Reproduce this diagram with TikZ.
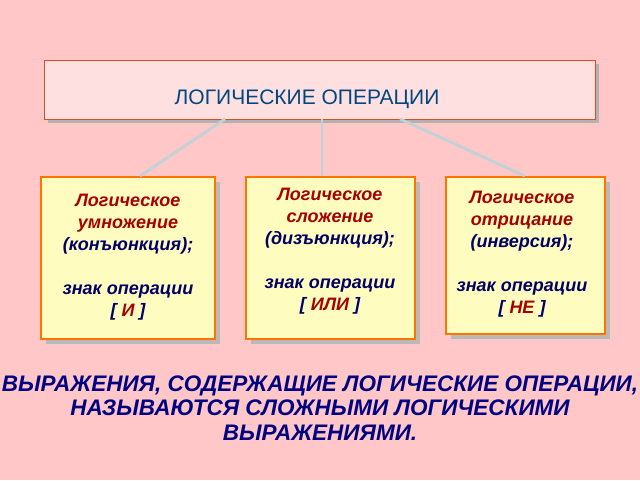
\documentclass[tikz,border=0pt]{standalone}
\usepackage{fontspec}
\setmainfont{Liberation Sans}
\begin{document}
\begin{tikzpicture}[x=1pt,y=-1pt,
  opbox/.style={draw=orange!90!red,line width=2.2pt,fill=yellow!25!white},
  shadowbox/.style={fill=gray!55},
  conn/.style={draw=cyan!25!gray!45!white,line width=2.8pt},
  btxt/.style={font=\fontsize{18}{22}\selectfont\bfseries\itshape,align=center,text=blue!40!black,inner sep=0}]
\useasboundingbox (0,0) rectangle (640,480);
\fill[red!22!white] (0,0) rectangle (640,480);
% title
\fill[gray!60] (48,64) rectangle (599,123);
\node[draw=red!40!brown,line width=1pt,fill=red!12!white,minimum width=551pt,minimum height=59pt,inner sep=0,anchor=north west] (title) at (44,60) {};
\node[text=blue!45!cyan!50!black,font=\fontsize{21}{24}\selectfont] at (307,99) {ЛОГИЧЕСКИЕ ОПЕРАЦИИ};
% boxes
\fill[shadowbox] (46,182) rectangle (220,344);
\fill[shadowbox] (251,182) rectangle (420,344);
\fill[shadowbox] (451,182) rectangle (610,339);
\node[opbox,minimum width=174pt,minimum height=162pt,inner sep=0,anchor=north west] (b1) at (40,176) {};
\node[opbox,minimum width=169pt,minimum height=162pt,inner sep=0,anchor=north west] (b2) at (245,176) {};
\node[opbox,minimum width=159pt,minimum height=157pt,inner sep=0,anchor=north west] (b3) at (445,176) {};
\coordinate (t1) at (225,119); \coordinate (t2) at (322,119); \coordinate (t3) at (400,119);
\coordinate (e1) at (140,176); \coordinate (e2) at (322,176); \coordinate (e3) at (525,176);
\draw[conn] (t1) -- (e1);
\draw[conn] (t2) -- (e2);
\draw[conn] (t3) -- (e3);
\node[btxt,anchor=north] (x1) at (128,194) {{\color{red!65!black}Логическое}\\{\color{red!65!black}умножение}\\(конъюнкция);\\[22pt]знак операции\\\relax[ {\color{red!65!black}И} ]};
\node[btxt,anchor=north] (x2) at (330,188) {{\color{red!65!black}Логическое}\\{\color{red!65!black}сложение}\\(дизъюнкция);\\[22pt]знак операции\\\relax[ {\color{red!65!black}ИЛИ} ]};
\node[btxt,anchor=north] (x3) at (522,191) {{\color{red!65!black}Логическое}\\{\color{red!65!black}отрицание}\\(инверсия);\\[22pt]знак операции\\\relax[ {\color{red!65!black}НЕ} ]};
\node[font=\fontsize{22.5}{24.5}\selectfont\bfseries\itshape,align=center,text=blue!50!black] (bottom) at (320,408) {ВЫРАЖЕНИЯ, СОДЕРЖАЩИЕ ЛОГИЧЕСКИЕ ОПЕРАЦИИ,\\НАЗЫВАЮТСЯ СЛОЖНЫМИ ЛОГИЧЕСКИМИ\\ВЫРАЖЕНИЯМИ.};
\end{tikzpicture}
\end{document}
